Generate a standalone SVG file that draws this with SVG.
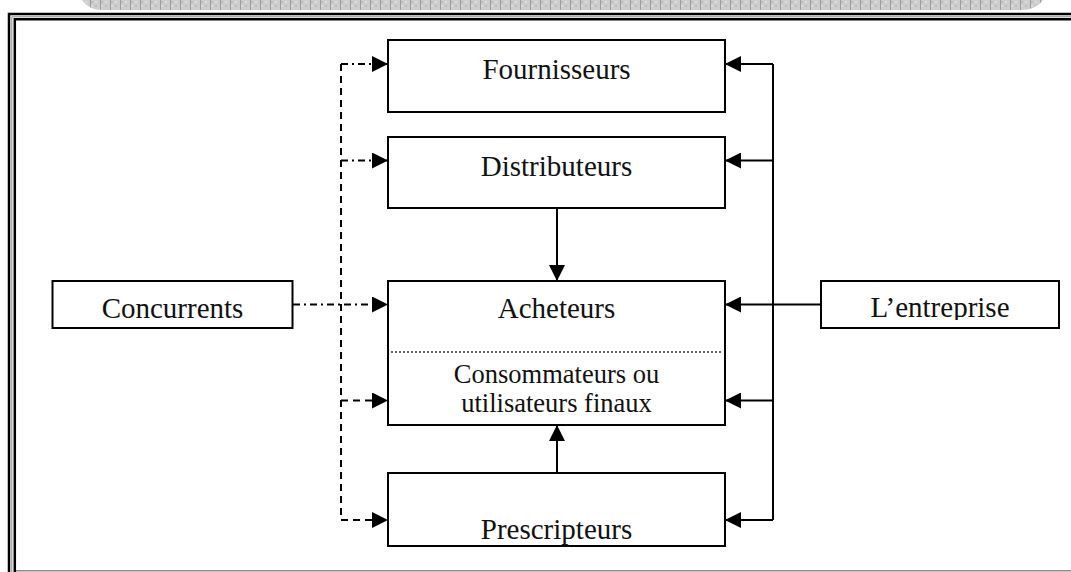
<svg xmlns="http://www.w3.org/2000/svg" width="1071" height="572" viewBox="0 0 1071 572">
  <style>
    .box { fill: #ffffff; stroke: #000000; stroke-width: 2; }
    .lbl { font-family: "Liberation Serif", "Times New Roman", serif; font-size: 29px; fill: #111111; text-anchor: middle; }
    .lbl-sm { font-family: "Liberation Serif", "Times New Roman", serif; font-size: 26.5px; fill: #111111; text-anchor: middle; }
    .solid { fill: none; stroke: #000000; stroke-width: 2; }
    .dash { fill: none; stroke: #000000; stroke-width: 2; stroke-dasharray: 7 5; }
    .dashdot { fill: none; stroke: #000000; stroke-width: 2; stroke-dasharray: 7 4 2 4; }
  </style>
  <defs>
    <marker id="head" viewBox="0 0 16 16" refX="16" refY="8" markerWidth="16" markerHeight="16" markerUnits="userSpaceOnUse" orient="auto">
      <path d="M0,0 L16,8 L0,16 Z" fill="#000000"/>
    </marker>
    <pattern id="hatch" width="10" height="10" patternUnits="userSpaceOnUse">
      <rect width="10" height="10" fill="#cdcdcd"/>
      <rect x="1" y="1" width="2" height="2" fill="#bdbdbd"/>
      <rect x="5" y="5" width="2" height="2" fill="#bdbdbd"/>
      <rect x="5" y="1" width="2" height="2" fill="#dcdcdc"/>
      <rect x="1" y="5" width="2" height="2" fill="#dcdcdc"/>
      <rect x="0" y="0" width="1" height="10" fill="#9c9c9c"/>
    </pattern>
    <!-- text frame of the company box is too short for descenders -->
    <clipPath id="entreprise-clip">
      <rect x="822" y="282" width="236" height="38"/>
    </clipPath>
  </defs>

  <rect width="1071" height="572" fill="#ffffff"/>

  <!-- header band -->
  <path d="M82,0 Q88,10 104,10 L1020,10 Q1036,10 1043,0 Z" fill="url(#hatch)"/>

  <!-- page frame -->
  <g id="frame">
    <path d="M9,572 L9,14 L1071,14" fill="none" stroke="#000000" stroke-width="2.5"/>
    <path d="M11.8,572 L11.8,16.8 L1071,16.8" fill="none" stroke="#8a8a8a" stroke-width="1"/>
    <path d="M14.8,572 L14.8,19.3 L1071,19.3" fill="none" stroke="#000000" stroke-width="2.5"/>
    <line x1="16" y1="570.7" x2="1071" y2="570.7" stroke="#8a8a8a" stroke-width="1.5"/>
  </g>

  <!-- connectors -->
  <g id="connectors">
    <!-- competitors (left): dashed trunk with branches -->
    <path class="dash" d="M341,64 L341,520"/>
    <path class="dashdot" d="M341,64 L388,64" marker-end="url(#head)"/>
    <path class="dashdot" d="M341,160.5 L388,160.5" marker-end="url(#head)"/>
    <path class="dashdot" d="M293,304.5 L388,304.5" marker-end="url(#head)"/>
    <path class="dash" d="M341,400.5 L388,400.5" marker-end="url(#head)"/>
    <path class="dash" d="M341,520 L388,520" marker-end="url(#head)"/>

    <!-- company (right): solid trunk with branches -->
    <path class="solid" d="M773,64 L773,520"/>
    <path class="solid" d="M773,64 L725,64" marker-end="url(#head)"/>
    <path class="solid" d="M773,160.5 L725,160.5" marker-end="url(#head)"/>
    <path class="solid" d="M821,304.5 L725,304.5" marker-end="url(#head)"/>
    <path class="solid" d="M773,400.5 L725,400.5" marker-end="url(#head)"/>
    <path class="solid" d="M773,520 L725,520" marker-end="url(#head)"/>

    <!-- vertical flows into buyers -->
    <path class="solid" d="M557,208 L557,281" marker-end="url(#head)"/>
    <path class="solid" d="M557,473 L557,425" marker-end="url(#head)"/>
  </g>

  <g id="fournisseurs">
    <rect class="box" x="388" y="40" width="337" height="72"/>
    <text class="lbl" x="556.5" y="79">Fournisseurs</text>
  </g>

  <g id="distributeurs">
    <rect class="box" x="388" y="137" width="337" height="71"/>
    <text class="lbl" x="556.5" y="176">Distributeurs</text>
  </g>

  <g id="acheteurs">
    <rect class="box" x="388" y="281" width="337" height="144"/>
    <line x1="391" y1="352" x2="722" y2="352" stroke="#333333" stroke-width="1.3" stroke-dasharray="2 2"/>
    <text class="lbl" x="556.5" y="318">Acheteurs</text>
    <text class="lbl-sm" x="556.5" y="383">Consommateurs ou</text>
    <text class="lbl-sm" x="556.5" y="412">utilisateurs finaux</text>
  </g>

  <g id="prescripteurs">
    <rect class="box" x="388" y="473" width="337" height="73"/>
    <text class="lbl" x="556.5" y="539">Prescripteurs</text>
  </g>

  <g id="concurrents">
    <rect class="box" x="52.5" y="281" width="240" height="47"/>
    <text class="lbl" x="172.5" y="318">Concurrents</text>
  </g>

  <g id="entreprise">
    <rect class="box" x="821" y="281" width="238" height="47"/>
    <text class="lbl" x="940" y="317" clip-path="url(#entreprise-clip)">L’entreprise</text>
  </g>
</svg>
